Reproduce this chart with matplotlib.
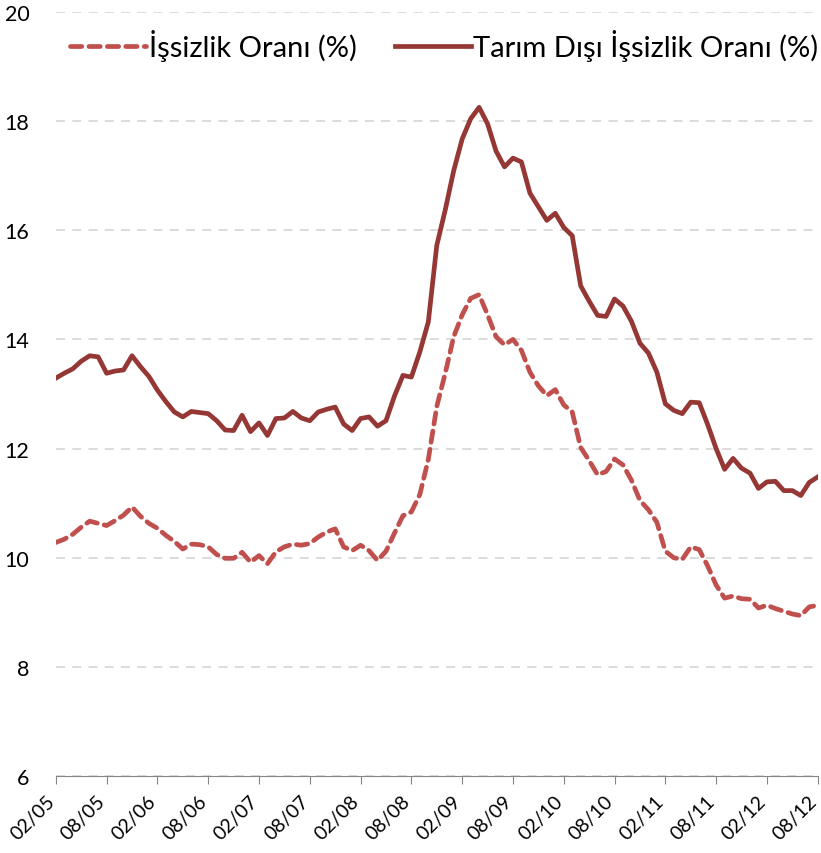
import numpy as np
import matplotlib
matplotlib.use("Agg")
import matplotlib.pyplot as plt
from matplotlib.transforms import ScaledTranslation

# Monthly data, 02/05 .. 08/12 (91 months)
issizlik = [10.28, 10.34, 10.43, 10.56, 10.67, 10.63, 10.59, 10.68, 10.78, 10.93,
            10.76, 10.63, 10.54, 10.41, 10.30, 10.16, 10.25, 10.24, 10.20, 10.06,
            9.99, 9.99, 10.10, 9.92, 10.04, 9.89, 10.11, 10.20, 10.25, 10.23,
            10.26, 10.38, 10.47, 10.53, 10.20, 10.13, 10.23, 10.13, 9.95, 10.12,
            10.45, 10.77, 10.84, 11.16, 11.80, 12.77, 13.38, 14.05, 14.45, 14.75,
            14.82, 14.45, 14.05, 13.90, 14.00, 13.80, 13.40, 13.15, 12.97, 13.08,
            12.80, 12.67, 12.02, 11.78, 11.52, 11.58, 11.81, 11.70, 11.42, 11.05,
            10.88, 10.65, 10.12, 10.00, 9.97, 10.20, 10.15, 9.85, 9.50, 9.26,
            9.30, 9.25, 9.24, 9.08, 9.13, 9.07, 9.02, 8.97, 8.94, 9.10,
            9.13]

tarim_disi = [13.29, 13.38, 13.46, 13.60, 13.70, 13.68, 13.38, 13.42, 13.44, 13.70,
              13.50, 13.32, 13.07, 12.86, 12.67, 12.58, 12.68, 12.66, 12.64, 12.51,
              12.34, 12.33, 12.61, 12.31, 12.47, 12.24, 12.55, 12.56, 12.68, 12.56,
              12.51, 12.67, 12.72, 12.76, 12.45, 12.33, 12.55, 12.58, 12.41, 12.51,
              12.96, 13.34, 13.31, 13.77, 14.32, 15.72, 16.37, 17.09, 17.67, 18.04,
              18.25, 17.95, 17.45, 17.16, 17.32, 17.25, 16.68, 16.43, 16.18, 16.31,
              16.05, 15.90, 14.98, 14.70, 14.44, 14.42, 14.74, 14.61, 14.33, 13.93,
              13.75, 13.40, 12.82, 12.70, 12.64, 12.85, 12.84, 12.44, 12.00, 11.62,
              11.82, 11.64, 11.55, 11.27, 11.39, 11.40, 11.23, 11.23, 11.14, 11.38,
              11.48]

tick_labels = ['02/05', '08/05', '02/06', '08/06', '02/07', '08/07', '02/08', '08/08',
               '02/09', '08/09', '02/10', '08/10', '02/11', '08/11', '02/12', '08/12']

plt.rcParams['font.family'] = ['Lato', 'DejaVu Sans']

fig = plt.figure(figsize=(8.21, 8.54), dpi=100)
ax = fig.add_axes([0.068, 0.09, 0.928, 0.895])

x = np.arange(len(issizlik))
ax.plot(x, issizlik, color='#C0504D', lw=3.4, linestyle=(0, (2.4, 1.5)),
        dash_capstyle='round', solid_capstyle='round', label='İşsizlik Oranı (%)')
ax.plot(x, tarim_disi, color='#953735', lw=3.4, solid_joinstyle='round',
        label='Tarım Dışı İşsizlik Oranı (%)')

ax.set_xlim(0, len(issizlik) - 1)
ax.set_ylim(6, 20)
ax.set_yticks(np.arange(6, 21, 2))
ax.yaxis.grid(True, color='#D9D9D9', linestyle=(0, (5, 4)), lw=1.3)
ax.set_axisbelow(True)

ax.set_xticks(np.arange(0, len(issizlik), 6))
ax.set_xticklabels(tick_labels, rotation=45, ha='right', va='center',
                   rotation_mode='anchor', fontsize=14)
ax.tick_params(axis='x', length=6, color='#868686', pad=10)
ax.tick_params(axis='y', length=0, pad=19, labelsize=15.5)

# nudge the rotated date labels a bit left so the last one stays inside
shift = ScaledTranslation(-4 / 100, 0, fig.dpi_scale_trans)
for lab in ax.get_xticklabels():
    lab.set_transform(lab.get_transform() + shift)

for s in ['top', 'right', 'left']:
    ax.spines[s].set_visible(False)
ax.spines['bottom'].set_color('#868686')

ax.legend(loc='upper center', bbox_to_anchor=(0.51, 1.012), ncol=2, frameon=False,
          fontsize=21, handlelength=2.6, handletextpad=0.1, columnspacing=1.3)

fig.savefig('out.png', dpi=100)
